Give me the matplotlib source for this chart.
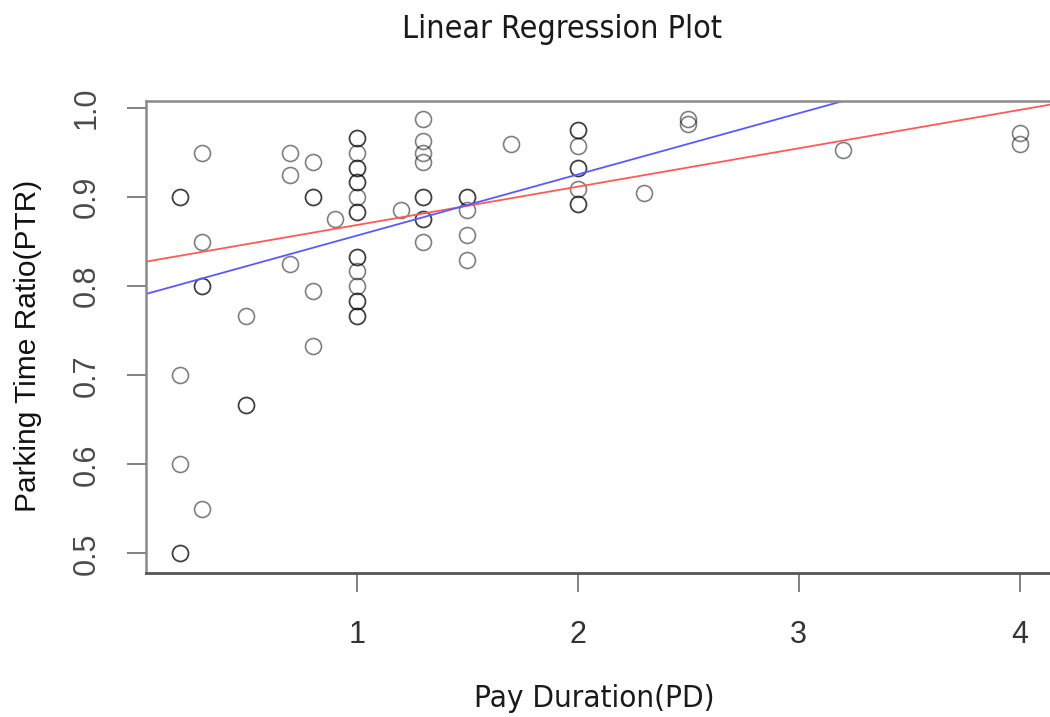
import matplotlib
matplotlib.use("Agg")
import matplotlib.pyplot as plt
from matplotlib import font_manager

# pay duration (PD) and parking time ratio (PTR)
pd_vals = [0.2, 0.2, 0.2, 0.2, 0.2, 0.2,
           0.3, 0.3, 0.3, 0.3, 0.3,
           0.5, 0.5, 0.5,
           0.7, 0.7, 0.7,
           0.8, 0.8, 0.8, 0.8, 0.8,
           0.9,
           1.0, 1.0, 1.0, 1.0, 1.0, 1.0, 1.0, 1.0, 1.0, 1.0, 1.0,
           1.0, 1.0, 1.0, 1.0, 1.0, 1.0, 1.0,
           1.2,
           1.3, 1.3, 1.3, 1.3, 1.3, 1.3, 1.3, 1.3, 1.3,
           1.5, 1.5, 1.5, 1.5, 1.5,
           1.7,
           2.0, 2.0, 2.0, 2.0, 2.0, 2.0, 2.0, 2.0,
           2.3,
           2.5, 2.5,
           3.2,
           4.0, 4.0]
ptr_vals = [0.9, 0.9, 0.7, 0.6, 0.5, 0.5,
            0.95, 0.85, 0.8, 0.8, 0.55,
            0.767, 0.667, 0.667,
            0.95, 0.925, 0.825,
            0.94, 0.9, 0.9, 0.795, 0.733,
            0.875,
            0.967, 0.967, 0.95, 0.933, 0.933, 0.917, 0.917, 0.9, 0.883, 0.883, 0.833,
            0.833, 0.817, 0.8, 0.783, 0.783, 0.767, 0.767,
            0.886,
            0.988, 0.963, 0.95, 0.94, 0.9, 0.9, 0.875, 0.875, 0.85,
            0.9, 0.9, 0.886, 0.857, 0.83,
            0.96,
            0.975, 0.975, 0.958, 0.933, 0.933, 0.909, 0.892, 0.892,
            0.905,
            0.988, 0.982,
            0.953,
            0.972, 0.96]

# the two fitted lines (intercept, slope)
red_fit = (0.8256, 0.0431)
blue_fit = (0.7881, 0.0687)

x_ticks = [1, 2, 3, 4]
y_ticks = [0.5, 0.6, 0.7, 0.8, 0.9, 1.0]

plain = ['Liberation Sans', 'DejaVu Sans']

# title and x label are in a condensed face in the original; use one if present
fonts = font_manager.fontManager.ttflist
names = {f.name for f in fonts}
if 'Liberation Sans Narrow' in names:
    cond = dict(family=['Liberation Sans Narrow', 'DejaVu Sans'])
    title_size, xlab_size = 28, 27
elif any(f.name == 'DejaVu Sans' and f.stretch == 'condensed' for f in fonts):
    cond = dict(family=['DejaVu Sans'], fontstretch='condensed')
    title_size, xlab_size = 23, 22.5
else:
    cond = dict(family=plain)
    title_size, xlab_size = 23, 22

fig = plt.figure(figsize=(10.5, 7.17), dpi=100)
ax = fig.add_axes([146 / 1050, 1 - 573 / 717, 1 - 146 / 1050, 472 / 717])

ax.plot(pd_vals, ptr_vals, linestyle='none', marker='o', markersize=11.5,
        markerfacecolor='none', markeredgecolor='black', markeredgewidth=1.2,
        alpha=0.5)

ax.axline((0, red_fit[0]), slope=red_fit[1], color='#ff5a5a', lw=1.3)
ax.axline((0, blue_fit[0]), slope=blue_fit[1], color='#5a5aff', lw=1.3)

ax.set_xlim(0.0466, 4.137)
ax.set_ylim(0.478, 1.008)

ax.set_xticks(x_ticks)
ax.set_xticklabels([str(t) for t in x_ticks], family=plain, fontsize=22,
                   color='#333333')
ax.set_yticks(y_ticks)
ax.set_yticklabels(['%.1f' % t for t in y_ticks], family=plain, fontsize=22,
                   color='#4a4a4a', rotation=90, va='center')
ax.tick_params(axis='both', direction='out', length=14, width=1.3,
               color='#777777')
ax.tick_params(axis='x', pad=20)
ax.tick_params(axis='y', pad=18)

for side in ['left', 'top']:
    ax.spines[side].set_color('#8a8a8a')
    ax.spines[side].set_linewidth(1.8)
ax.spines['bottom'].set_color('#555555')
ax.spines['bottom'].set_linewidth(2.0)
ax.spines['right'].set_visible(False)

fig.text(562 / 1050, 1 - 38 / 717, 'Linear Regression Plot',
         fontsize=title_size, color='#1a1a1a', ha='center', va='baseline',
         **cond)
fig.text(594 / 1050, 1 - 707 / 717, 'Pay Duration(PD)',
         fontsize=xlab_size, color='#1a1a1a', ha='center', va='baseline',
         **cond)
fig.text(28 / 1050, 1 - 346 / 717, 'Parking Time Ratio(PTR)', family=plain,
         fontsize=21.5, color='#111111', ha='center', va='center',
         rotation=90)

fig.savefig('out.png', dpi=100)
